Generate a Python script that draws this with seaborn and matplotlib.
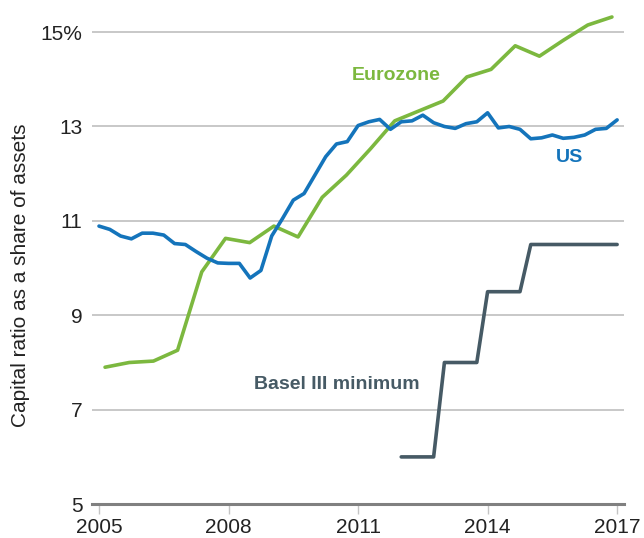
import numpy as np
import pandas as pd
import matplotlib
matplotlib.use('Agg')
import matplotlib.pyplot as plt
import seaborn as sns

# quarterly dates 2005Q1 .. 2017Q1
quarters = np.arange(2005.0, 2017.01, 0.25)

us_ratio = [10.89, 10.82, 10.68, 10.62, 10.74, 10.74, 10.70, 10.52,
            10.50, 10.35, 10.21, 10.11, 10.10, 10.10, 9.79, 9.95,
            10.68, 11.05, 11.44, 11.58, 11.97, 12.36, 12.63, 12.68,
            13.02, 13.10, 13.15, 12.94, 13.10, 13.12, 13.24, 13.08,
            13.00, 12.96, 13.06, 13.10, 13.29, 12.97, 13.00, 12.94,
            12.74, 12.76, 12.82, 12.75, 12.77, 12.82, 12.94, 12.96,
            13.14]

# Eurozone series is sampled on its own (roughly half-yearly) dates
ez_dates = [2005.14, 2005.70, 2006.26, 2006.82, 2007.38, 2007.93, 2008.49,
            2009.05, 2009.61, 2010.17, 2010.73, 2011.29, 2011.85, 2012.41,
            2012.97, 2013.52, 2014.08, 2014.64, 2015.20, 2015.76, 2016.32,
            2016.88]
ez_ratio = [7.90, 8.00, 8.03, 8.26, 9.92, 10.63, 10.54, 10.89, 10.66, 11.50,
            11.97, 12.53, 13.12, 13.33, 13.54, 14.05, 14.21, 14.71, 14.49,
            14.83, 15.15, 15.32]

basel_dates = np.arange(2012.0, 2017.01, 0.25)
basel_min = [6.0, 6.0, 6.0, 6.0, 8.0, 8.0, 8.0, 8.0, 9.5, 9.5, 9.5, 9.5,
             10.5, 10.5, 10.5, 10.5, 10.5, 10.5, 10.5, 10.5, 10.5]

year_ticks = [2005, 2008, 2011, 2014, 2017]
y_ticks = [5, 7, 9, 11, 13, 15]
y_labels = ['5', '7', '9', '11', '13', '15%']

green = '#7cb83f'
blue = '#1474bb'
slate = '#465a65'

df_us = pd.DataFrame({'date': quarters, 'ratio': us_ratio})
df_ez = pd.DataFrame({'date': ez_dates, 'ratio': ez_ratio})
df_basel = pd.DataFrame({'date': basel_dates, 'ratio': basel_min})

sns.set_style('white')
plt.rcParams['font.family'] = ['Liberation Sans', 'DejaVu Sans']

fig = plt.figure(figsize=(6.44, 5.38), dpi=100)
ax = fig.add_axes([0.143, 0.063, 0.826, 0.937])

sns.lineplot(data=df_basel, x='date', y='ratio', color=slate, lw=2.6, ax=ax)
sns.lineplot(data=df_ez, x='date', y='ratio', color=green, lw=2.6, ax=ax)
sns.lineplot(data=df_us, x='date', y='ratio', color=blue, lw=2.6, ax=ax)

ax.text(2011.88, 14.09, 'Eurozone', color=green, fontsize=14, fontweight='bold',
        ha='center', va='center')
ax.text(2015.89, 12.35, 'US', color=blue, fontsize=14, fontweight='bold',
        ha='center', va='center')
ax.text(2010.51, 7.54, 'Basel III minimum', color=slate, fontsize=14,
        fontweight='bold', ha='center', va='center')

ax.set_xlim(2004.84, 2017.16)
ax.set_ylim(5, 15.68)
ax.set_xticks(year_ticks)
ax.set_xticklabels([str(y) for y in year_ticks])
ax.set_yticks(y_ticks)
ax.set_yticklabels(y_labels)
ax.yaxis.grid(True, color='#c4c4c4', lw=1.3)
ax.set_axisbelow(True)
for s in ['top', 'right', 'left']:
    ax.spines[s].set_visible(False)
ax.spines['bottom'].set_color('#808080')
ax.spines['bottom'].set_linewidth(2.2)
ax.tick_params(axis='x', length=7, width=1, color='#c4c4c4', labelsize=15,
               labelcolor='#222222', pad=3, bottom=True, direction='out')
ax.tick_params(axis='y', length=0, labelsize=15, labelcolor='#222222', pad=7)
ax.set_xlabel('')
ax.set_ylabel('Capital ratio as a share of assets', fontsize=15,
              color='#222222')
ax.yaxis.set_label_coords(-0.116, 0.454)

fig.savefig('out.png', dpi=100)
